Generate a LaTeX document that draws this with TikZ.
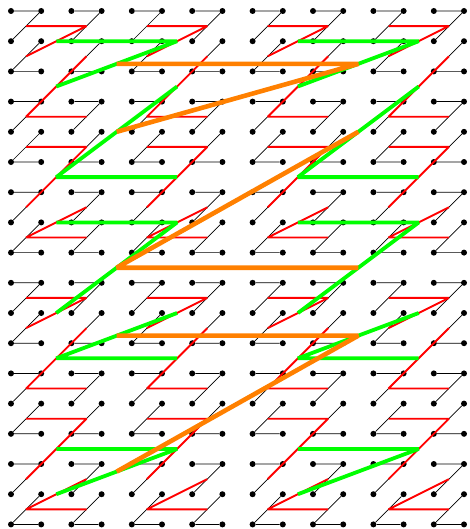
\documentclass[tikz,border=0pt]{standalone}
\usetikzlibrary{calc}
\tikzset{
  blk/.style={black, line width=0.7pt},
  redz/.style={red, line width=1.9pt, line join=bevel},
  grnz/.style={green, line width=3.8pt, line join=bevel},
  orgz/.style={orange, line width=4.6pt, line join=bevel},
  dotn/.style={circle, fill=black, inner sep=0pt, minimum size=6pt},
}
\begin{document}
\begin{tikzpicture}[x=30.2pt,y=-30.2pt]
\useasboundingbox (-0.3642,-0.3642) rectangle (15.166,17.152);
% dots
\foreach \i in {0,...,15} {
  \foreach \j in {0,...,17} {
    \node[dotn] (d-\i-\j) at (\i,\j) {};
  }
}
% black level
\foreach \b in {0,...,7} {
  \foreach \t in {0,...,5} {
    \pgfmathtruncatemacro\xa{2*\b}
    \pgfmathtruncatemacro\xb{2*\b+1}
    \pgfmathtruncatemacro\ya{3*\t}
    \pgfmathtruncatemacro\yb{3*\t+1}
    \pgfmathtruncatemacro\yc{3*\t+2}
    \pgfmathtruncatemacro\ra{2*\t}
    \pgfmathtruncatemacro\rb{2*\t+1}
    \draw[blk] (d-\xa-\ya) -- (d-\xb-\ya) -- (d-\xa-\yb);
    \draw[blk] (d-\xb-\yb) -- (d-\xa-\yc) -- (d-\xb-\yc);
    \coordinate (b-\b-\ra) at ($(d-\xa-\ya)!0.5!(d-\xb-\yb)$);
    \coordinate (b-\b-\rb) at ($(d-\xa-\yb)!0.5!(d-\xb-\yc)$);
  }
}
% red level
\foreach \c in {0,...,3} {
  \foreach \t in {0,...,3} {
    \pgfmathtruncatemacro\xa{2*\c}
    \pgfmathtruncatemacro\xb{2*\c+1}
    \pgfmathtruncatemacro\ya{3*\t}
    \pgfmathtruncatemacro\yb{3*\t+1}
    \pgfmathtruncatemacro\yc{3*\t+2}
    \pgfmathtruncatemacro\ra{2*\t}
    \pgfmathtruncatemacro\rb{2*\t+1}
    \draw[redz] (b-\xa-\ya) -- (b-\xb-\ya) -- (b-\xa-\yb);
    \draw[redz] (b-\xb-\yb) -- (b-\xa-\yc) -- (b-\xb-\yc);
    \coordinate (r-\c-\ra) at ($(b-\xa-\ya)!0.5!(b-\xb-\yb)$);
    \coordinate (r-\c-\rb) at ($(b-\xa-\yb)!0.5!(b-\xb-\yc)$);
  }
}
% green level
\foreach \g in {0,1} {
  \foreach \t in {0,1,2} {
    \pgfmathtruncatemacro\xa{2*\g}
    \pgfmathtruncatemacro\xb{2*\g+1}
    \pgfmathtruncatemacro\ya{3*\t}
    \pgfmathtruncatemacro\yb{3*\t+1}
    \pgfmathtruncatemacro\yc{3*\t+2}
    \pgfmathtruncatemacro\ra{2*\t}
    \pgfmathtruncatemacro\rb{2*\t+1}
    \draw[grnz] (r-\xa-\ya) -- (r-\xb-\ya) -- (r-\xa-\yb);
    \coordinate (g-\g-\ra) at ($(r-\xa-\ya)!0.5!(r-\xb-\yb)$);
    \ifnum\t<2
      \draw[grnz] (r-\xb-\yb) -- (r-\xa-\yc) -- (r-\xb-\yc);
      \coordinate (g-\g-\rb) at ($(r-\xa-\yb)!0.5!(r-\xb-\yc)$);
    \fi
  }
}
% orange level
\draw[orgz] (g-0-0) -- (g-1-0) -- (g-0-1);
\draw[orgz] (g-1-1) -- (g-0-2) -- (g-1-2);
\draw[orgz] (g-0-3) -- (g-1-3) -- (g-0-4);
\end{tikzpicture}
\end{document}
